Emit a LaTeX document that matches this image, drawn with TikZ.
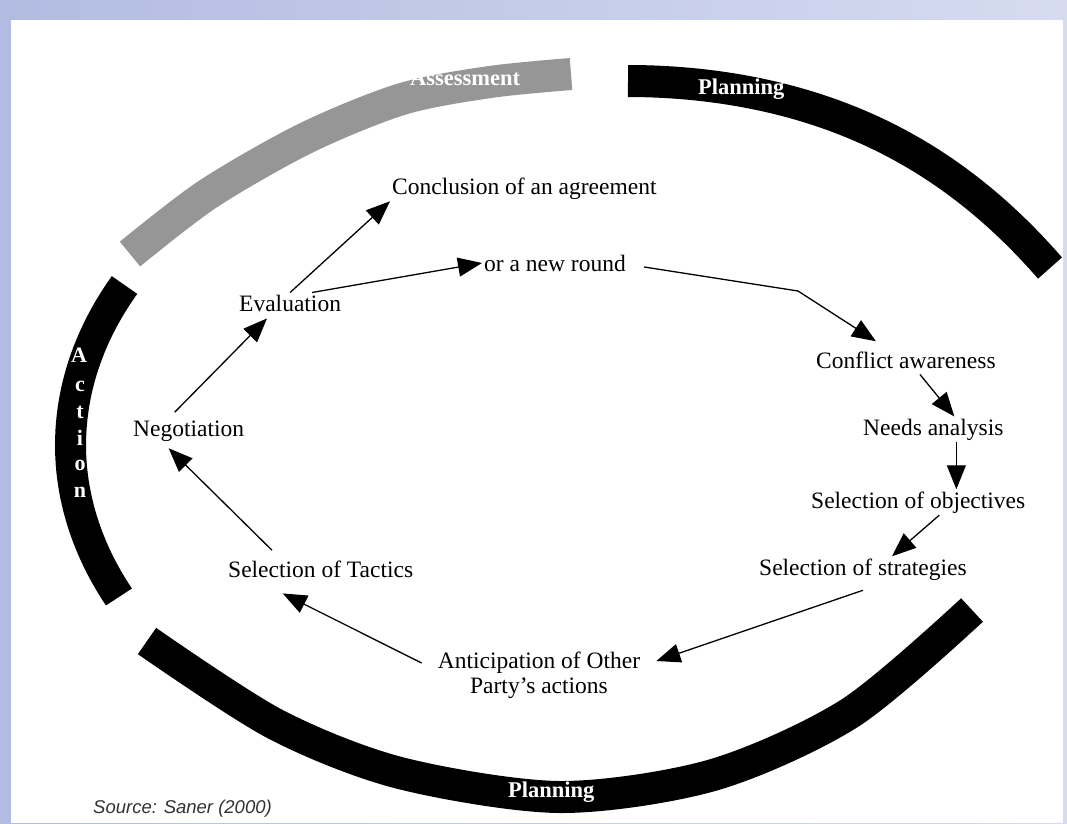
\documentclass[tikz,border=0pt]{standalone}
\usepackage{fontspec}
\setmainfont{Liberation Serif}
\newfontfamily\srcfont{Liberation Sans}
\usetikzlibrary{arrows.meta}
\definecolor{bgleft}{RGB}{178,188,226}
\definecolor{bgright}{RGB}{214,219,240}
\definecolor{assessgray}{RGB}{150,150,150}
\definecolor{srcgray}{RGB}{50,50,50}
\tikzset{
 lbl/.style={anchor=base west, inner sep=2pt, font=\fontsize{23.5}{25}\selectfont},
 band/.style={line width=32pt, line cap=butt, line join=round},
 bandlbl/.style={text=white, inner sep=0pt, anchor=base west, font=\bfseries\fontsize{22.5}{24}\selectfont},
 actlbl/.style={text=white, inner sep=0pt, anchor=base, font=\bfseries\fontsize{22}{24}\selectfont},
 arr/.style={line width=1.3pt, -{Triangle[length=24pt,width=19pt]}},
}
\begin{document}
\begin{tikzpicture}[x=1pt,y=-1pt]
\useasboundingbox (0,0) rectangle (1067,823);
\shade[left color=bgleft,right color=bgright] (0,0) rectangle (1067,823);
\fill[white] (11,20) rectangle (1063,823);
% bands
\draw[band, assessgray] plot[smooth] coordinates {(130,254) (208,194) (306,138) (402,99) (490,82) (571,74)};
\draw[band, black] plot[domain=0:4.22, samples=50, variable=\v] ({628+100*\v}, {81+7.389*\v*\v+0.1748*\v*\v*\v*\v});
\draw[band, black, line width=31pt] plot[domain=155.03:206.39, samples=50, variable=\t] ({588.5+518*cos(\t)}, {445+360*sin(\t)});
\draw[band, black] plot[smooth] coordinates {(147,641) (275,724) (400,773) (560,797) (713,775) (850,713) (972,610)};
% band labels
\node[bandlbl] (assess) at (410,85) {Assessment};
\node[bandlbl] (plantop) at (698,94) {Planning};
\node[bandlbl] (planbot) at (508,797) {Planning};
\node[actlbl] (act1) at (79,362) {A};
\foreach \ch/\yy [count=\i from 2] in {c/391,t/418,i/445,o/470,n/497}
  \node[actlbl] (act\i) at (80,\yy) {\ch};
% text nodes
\node[lbl] (concl) at (390,194) {Conclusion of an agreement};
\node[lbl] (round) at (482,271) {or a new round};
\node[lbl] (eval) at (237,311) {Evaluation};
\node[lbl] (conflict) at (814,368) {Conflict awareness};
\node[lbl] (needs) at (861,435) {Needs analysis};
\node[lbl] (objectives) at (809,508) {Selection of objectives};
\node[lbl] (strategies) at (757,575) {Selection of strategies};
\node[inner sep=2pt, align=center, font=\fontsize{23.5}{25}\selectfont] (antic) at (539,675) {Anticipation of Other\\Party’s actions};
\node[lbl] (tactics) at (226,577) {Selection of Tactics};
\node[lbl] (negot) at (131,436) {Negotiation};
% arrows
\draw[arr] (eval.north) -- (concl.south west);
\draw[arr] ([xshift=22pt]eval.north) -- (round.west);
\coordinate (bend) at (798,291);
\draw[arr] ([xshift=16pt,yshift=-4pt]round.east) -- (bend) -- ([xshift=-30pt,yshift=8pt]conflict.north);
\draw[arr] ([xshift=14pt,yshift=-4pt]conflict.south) -- ([xshift=21pt]needs.north);
\draw[arr] ([xshift=23pt]needs.south) -- ([xshift=23pt]needs.south |- objectives.north);
\draw[arr] ([xshift=21pt]objectives.south) -- ([xshift=29pt]strategies.north);
\draw[arr] ([yshift=-8pt]strategies.south) -- ([xshift=14pt,yshift=14pt]antic.east);
\draw[arr] ([xshift=-14pt,yshift=12pt]antic.west) -- ([xshift=-38pt,yshift=-14pt]tactics.south);
\draw[arr] ([xshift=46pt,yshift=8pt]tactics.north west) -- ([xshift=-20pt,yshift=-5pt]negot.south);
\draw[arr] ([xshift=-14pt,yshift=6pt]negot.north) -- ([xshift=30pt,yshift=-5pt]eval.south west);
% source
\node[anchor=base west, inner sep=0pt, text=srcgray, font=\srcfont\itshape\fontsize{18.5}{20}\selectfont] (src) at (93,813) {Source: Saner (2000)};
\end{tikzpicture}
\end{document}
